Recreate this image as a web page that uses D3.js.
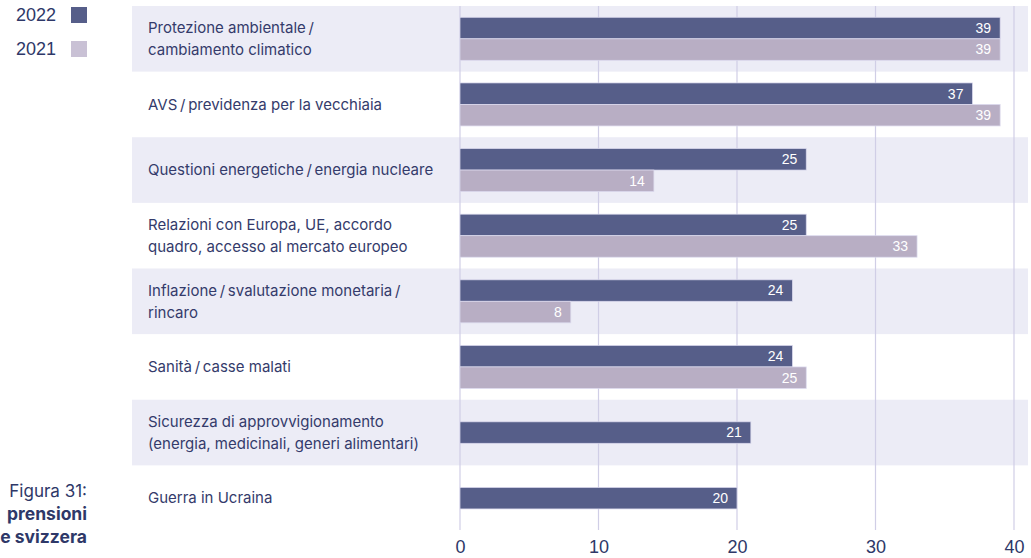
<!DOCTYPE html>
<html>
<head>
<meta charset="utf-8">
<script src="https://cdn.jsdelivr.net/npm/d3@7"></script>
<style>
  html, body { margin: 0; padding: 0; background: #ffffff; }
  svg { display: block; }
</style>
</head>
<body>
<svg id="chart" width="1031" height="558"></svg>
<script>
const categories = [
  ["Protezione ambientale\u2009/", "cambiamento climatico"],
  ["AVS\u2009/\u2009previdenza per la vecchiaia"],
  ["Questioni energetiche\u2009/\u2009energia nucleare"],
  ["Relazioni con Europa, UE, accordo", "quadro, accesso al mercato europeo"],
  ["Inflazione\u2009/\u2009svalutazione monetaria\u2009/", "rincaro"],
  ["Sanità\u2009/\u2009casse malati"],
  ["Sicurezza di approvvigionamento", "(energia, medicinali, generi alimentari)"],
  ["Guerra in Ucraina"]
];
const values2022 = [39, 37, 25, 25, 24, 24, 21, 20];
const values2021 = [39, 39, 14, 33, 8, 25, null, null];
const seriesNames = ["2022", "2021"];
const xTicks = [0, 10, 20, 30, 40];
const captionLines = ["Figura 31:", "prensioni", "e svizzera"];

const colors = { "2022": "#565e89", "2021": "#b8aec4" };
const textColor = "#343b6b";

const svg = d3.select("#chart");

const x = d3.scaleLinear().domain([0, 40]).range([460, 1014]);
const y = d3.scaleBand().domain(d3.range(categories.length)).range([6, 531]).paddingInner(0);
const barH = 21.5;

// band shading
svg.append("g").selectAll("rect")
  .data(d3.range(categories.length).filter(i => i % 2 === 0))
  .join("rect")
  .attr("x", 132).attr("width", 1028 - 132)
  .attr("y", i => y(i)).attr("height", y.bandwidth())
  .attr("fill", "#ececf6");

// grid lines
svg.append("g").selectAll("line")
  .data(xTicks).join("line")
  .attr("x1", d => x(d)).attr("x2", d => x(d))
  .attr("y1", 6).attr("y2", 530)
  .attr("stroke", "#d0cee6").attr("stroke-width", 1.2);

// axis labels
const axis = d3.axisBottom(x).tickValues(xTicks).tickSize(0).tickPadding(0);
const axG = svg.append("g").attr("transform", "translate(0,540)").call(axis);
axG.select(".domain").remove();
axG.selectAll("text")
  .attr("font-family", "'Liberation Sans', Arial, sans-serif")
  .attr("font-size", 18).attr("fill", "#2e3868").attr("dy", "0.71em");

// category labels
const labG = svg.append("g");
categories.forEach((lines, i) => {
  const cy = y(i) + y.bandwidth() / 2;
  const lh = 22;
  const t = labG.append("text")
    .attr("font-family", "Inter, 'Noto Sans', sans-serif")
    .attr("font-size", 15).attr("fill", textColor);
  lines.forEach((ln, j) => {
    t.append("tspan")
      .attr("x", 148)
      .attr("y", cy + (j - (lines.length - 1) / 2) * lh)
      .attr("dy", "0.35em")
      .text(ln);
  });
});

// bars
const barData = [];
categories.forEach((c, i) => {
  const vals = [values2022[i], values2021[i]];
  const present = vals.map((v, k) => ({ v, k })).filter(d => d.v != null);
  const cy = y(i) + y.bandwidth() / 2;
  const top = cy - present.length * barH / 2;
  present.forEach((d, j) => {
    barData.push({ value: d.v, series: seriesNames[d.k], y: top + j * barH });
  });
});

const barG = svg.append("g");
barG.selectAll("rect").data(barData).join("rect")
  .attr("x", x(0)).attr("y", d => d.y)
  .attr("width", d => x(d.value) - x(0)).attr("height", barH)
  .attr("fill", d => colors[d.series])
  .attr("stroke", "rgba(220,218,238,0.9)").attr("stroke-width", 0.8);

barG.selectAll("text").data(barData).join("text")
  .attr("x", d => x(d.value) - 9)
  .attr("y", d => d.y + barH / 2)
  .attr("dy", "0.35em")
  .attr("text-anchor", "end")
  .attr("font-family", "'Liberation Sans', Arial, sans-serif")
  .attr("font-size", 14)
  .attr("fill", "#ffffff")
  .text(d => d.value);

// legend
const legG = svg.append("g");
seriesNames.forEach((s, i) => {
  const ly = 15 + i * 34;
  legG.append("text")
    .attr("x", 56).attr("y", ly).attr("dy", "0.36em")
    .attr("text-anchor", "end")
    .attr("font-family", "'Liberation Sans', Arial, sans-serif")
    .attr("font-size", 18).attr("fill", "#2e3868")
    .text(s);
  legG.append("rect")
    .attr("x", 71).attr("y", ly - 8).attr("width", 16).attr("height", 16)
    .attr("fill", i === 0 ? colors[s] : "#c9c1d5");
});

// caption
const capG = svg.append("g")
  .attr("font-family", "Inter, 'Noto Sans', sans-serif")
  .attr("fill", "#2e3868").attr("text-anchor", "end");
capG.append("text").attr("x", 87).attr("y", 497)
  .attr("font-size", 17).text(captionLines[0]);
capG.append("text").attr("x", 87).attr("y", 520)
  .attr("font-size", 17.5).attr("font-weight", 700).text(captionLines[1]);
capG.append("text").attr("x", 87).attr("y", 543)
  .attr("font-size", 17.5).attr("font-weight", 700).text(captionLines[2]);
</script>
</body>
</html>
